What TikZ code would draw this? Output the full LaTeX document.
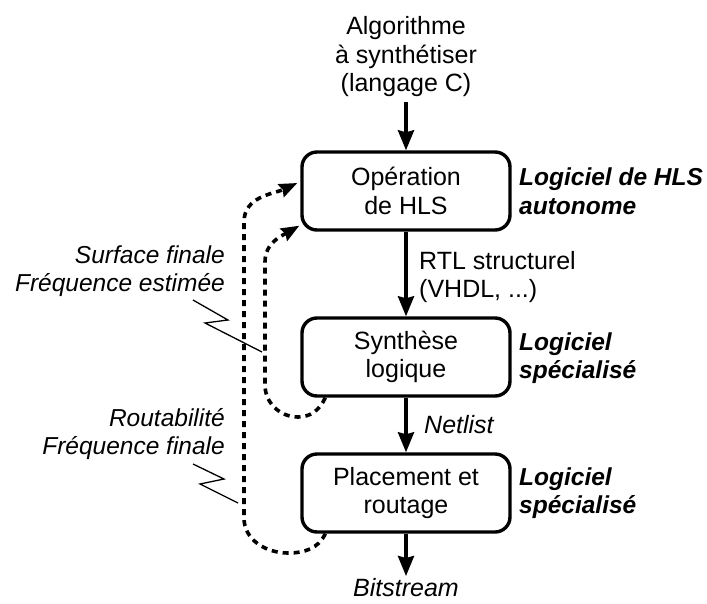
\documentclass[tikz,border=0pt]{standalone}
\usepackage{fontspec}
\setmainfont{Liberation Sans}
\usetikzlibrary{arrows.meta,calc}
\begin{document}
\begin{tikzpicture}[x=1pt,y=-1pt,
  every node/.style={font=\fontsize{25}{28.5}\selectfont, align=center, inner sep=0pt},
  stepbox/.style={draw, line width=3.4pt, rounded corners=15pt, minimum width=208pt, minimum height=78pt},
  flow/.style={line width=3.6pt, -{Stealth[length=20pt,width=16pt,inset=2pt]}},
  fb/.style={line width=3.6pt, dash pattern=on 6pt off 5pt, -{Stealth[length=18pt,width=14pt,inset=2pt]}},
  bolt/.style={line width=1.3pt},
  side/.style={font=\fontsize{24.5}{28.5}\selectfont\bfseries\itshape, align=left, anchor=west},
  lbl/.style={font=\fontsize{24.5}{28.5}\selectfont\itshape, align=right, anchor=east}]
\useasboundingbox (0,0) rectangle (707,603);
\node (src) at (406,57) {Algorithme\\à synthétiser\\(langage C)};
\node[stepbox] (b1) at (406,191) {Opération\\de HLS};
\node[stepbox] (b2) at (406,357) {Synthèse\\logique};
\node[stepbox] (b3) at (406,493) {Placement et\\routage};
\node (out) at (406,588) {\itshape Bitstream};
\coordinate (srcb) at (406,102);
\coordinate (outt) at (406,576);
\draw[flow] (srcb) -- (b1.north);
\draw[flow] (b1.south) -- (b2.north);
\draw[flow] (b2.south) -- (b3.north);
\draw[flow] (b3.south) -- (outt);
\node[anchor=west, align=left] (rtl) at (419,277) {RTL structurel\\(VHDL, ...)};
\node[anchor=west] (nl) at (424,425) {\itshape Netlist};
\node[side] (s1) at (519,191) {Logiciel de HLS\\autonome};
\node[side] (s2) at (519,358) {Logiciel\\spécialisé};
\node[side] (s3) at (519,493) {Logiciel\\spécialisé};
\node[lbl] (l1) at (225,271) {Surface finale\\Fréquence estimée};
\node[lbl] (l2) at (225,434) {Routabilité\\Fréquence finale};
% feedback loops
\coordinate (o1) at ($(b3.south west)+(25,0)$);
\coordinate (i1) at ($(b2.south west)+(25,0)$);
\coordinate (t1) at ($(b1.west)+(-3,-8)$);
\coordinate (t2) at ($(b1.south west)+(-1,-6)$);
\draw[fb] (o1) to[out=-115,in=0] (288,553) to[out=180,in=-90] (244,518) -- (244,222) to[out=90,in=205] (t1);
\draw[fb] (i1) to[out=-115,in=0] (298,417) to[out=180,in=-90] (265,385) -- (265,262) to[out=90,in=210] (t2);
% bolts
\coordinate (z1a) at (193,300); \coordinate (z1b) at (228,320);
\coordinate (z1c) at (205,323); \coordinate (z1d) at (262,352);
\draw[bolt] (z1a) -- (z1b) -- (z1c) -- (z1d);
\coordinate (z2a) at (193,464); \coordinate (z2b) at (224,479);
\coordinate (z2c) at (200,484); \coordinate (z2d) at (238,503);
\draw[bolt] (z2a) -- (z2b) -- (z2c) -- (z2d);
\end{tikzpicture}
\end{document}
